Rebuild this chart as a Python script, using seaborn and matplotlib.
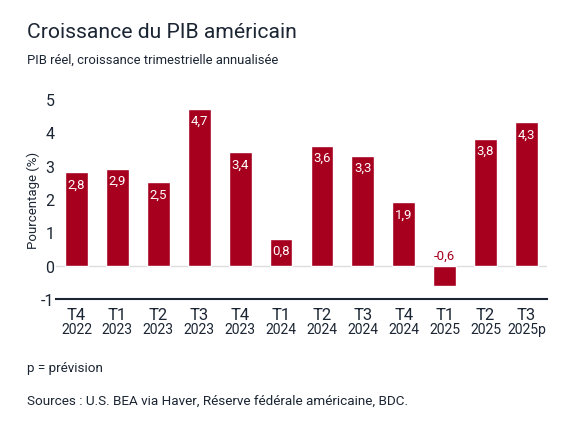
import pandas as pd
import seaborn as sns
import matplotlib.pyplot as plt
from matplotlib.transforms import blended_transform_factory

# Data
quarters = ['T4', 'T1', 'T2', 'T3', 'T4', 'T1', 'T2', 'T3', 'T4', 'T1', 'T2', 'T3']
years = ['2022', '2023', '2023', '2023', '2023', '2024', '2024', '2024', '2024', '2025', '2025', '2025p']
growth = [2.8, 2.9, 2.5, 4.7, 3.4, 0.8, 3.6, 3.3, 1.9, -0.6, 3.8, 4.3]

bar_color = '#A6001E'
text_color = '#1B2533'

sns.set_theme(style='white')
plt.rcParams['font.family'] = ['Roboto', 'DejaVu Sans']

df = pd.DataFrame({'periode': [f'{q}\n{y}' for q, y in zip(quarters, years)], 'croissance': growth})

fig = plt.figure(figsize=(5.75, 4.31), dpi=100)
ax = fig.add_axes([56 / 575, 1 - 300 / 431, 491 / 575, 200 / 431])

sns.barplot(data=df, x='periode', y='croissance', color=bar_color, width=0.56,
            saturation=1, ax=ax)

ax.set_ylim(-1, 5)
ax.set_xlim(-0.5, len(growth) - 0.5)
ax.set_yticks(range(-1, 6))
ax.set_yticklabels([str(v) for v in range(-1, 6)], fontsize=11.5, color=text_color)
ax.axhline(0, color='#DDDDDD', lw=1, zorder=0)

# quarter on top, year below in smaller type
ax.set_xticks(range(len(quarters)))
ax.set_xticklabels(quarters, fontsize=12, color=text_color)
trans = blended_transform_factory(ax.transData, ax.transAxes)
for i, y in enumerate(years):
    ax.text(i, -0.115, y, transform=trans, ha='center', va='top', fontsize=10, color=text_color)

ax.tick_params(axis='x', direction='in', length=3, width=1, color=text_color, pad=6)
ax.tick_params(axis='y', length=0, pad=1)

for s in ['top', 'right', 'left']:
    ax.spines[s].set_visible(False)
ax.spines['bottom'].set_color(text_color)
ax.spines['bottom'].set_linewidth(1.5)

ax.set_xlabel('')
ax.set_ylabel('Pourcentage (%)', fontsize=9.5, color=text_color, labelpad=1)

# value labels
for i, v in enumerate(growth):
    if v >= 0:
        ax.text(i, v - 0.15, f'{v:.1f}'.replace('.', ','), ha='center', va='top',
                fontsize=9.5, color='white')
    else:
        ax.text(i, 0.12, f'{v:.1f}'.replace('.', ','), ha='center', va='bottom',
                fontsize=9.5, color=bar_color)

fig.text(27 / 575, 1 - 33 / 431, 'Croissance du PIB américain', fontsize=15.2,
         color=text_color, va='center', ha='left')
fig.text(27 / 575, 1 - 60 / 431, 'PIB réel, croissance trimestrielle annualisée', fontsize=9.4,
         color=text_color, va='center', ha='left')
fig.text(27 / 575, 1 - 369 / 431, 'p = prévision', fontsize=9.7, color=text_color, va='center')
fig.text(27 / 575, 1 - 401 / 431, 'Sources : U.S. BEA via Haver, Réserve fédérale américaine, BDC.',
         fontsize=9.7, color=text_color, va='center')

fig.savefig('out.png', dpi=100, facecolor='white')
